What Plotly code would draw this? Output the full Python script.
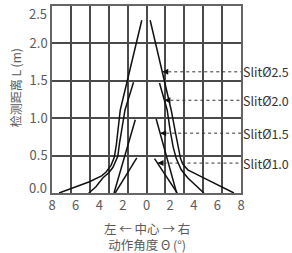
import numpy as np
import plotly.graph_objects as go

# ---- data ----
slit25_left_x = [-7.4, -6.0, -4.83, -3.8, -3.42, -3.0, -2.72, -2.55, -2.4, -2.22, -0.4]
slit25_left_y = [0.0, 0.08, 0.15, 0.23, 0.28, 0.37, 0.48, 0.65, 0.85, 1.11, 2.31]
slit25_right_x = [0.31, 2.09, 2.4, 2.65, 2.88, 3.1, 3.5, 4.5, 5.48, 6.4, 7.4]
slit25_right_y = [2.31, 1.11, 0.85, 0.62, 0.46, 0.38, 0.31, 0.23, 0.15, 0.08, 0.0]

slit20_left_x = [-4.89, -4.3, -3.7, -3.2, -2.85, -2.6, -2.43, -2.29, -2.0, -1.82, -1.1]
slit20_left_y = [0.0, 0.08, 0.2, 0.27, 0.34, 0.42, 0.49, 0.66, 0.93, 1.11, 1.48]
slit20_right_x = [1.1, 1.75, 2.0, 2.25, 2.52, 2.94, 3.5, 4.2, 4.86]
slit20_right_y = [1.47, 1.11, 0.84, 0.62, 0.46, 0.31, 0.2, 0.1, 0.0]

slit15_left_x = [-2.75, -0.95]
slit15_left_y = [0.0, 0.98]
slit15_right_x = [0.82, 2.55]
slit15_right_y = [0.99, 0.0]

slit10_left_x = [-2.65, -0.82]
slit10_left_y = [0.0, 0.47]
slit10_right_x = [0.68, 2.6]
slit10_right_y = [0.46, 0.0]

label_names = ["SlitØ2.5", "SlitØ2.0", "SlitØ1.5", "SlitØ1.0"]
label_y = [1.62, 1.24, 0.80, 0.40]

x_tick_vals = [-8, -6, -4, -2, 0, 2, 4, 6, 8]
x_tick_text = ["8", "6", "4", "2", "0", "2", "4", "6", "8"]
x_grid_vals = [-6.4, -4.8, -3.2, -1.6, 0, 1.6, 3.2, 4.8, 6.4]
y_tick_vals = [0.5, 1.0, 1.5, 2.0]
y_tick_text = ["0.5", "1.0", "1.5", "2.0"]

x_title_lines = ["左 ← 中心 → 右", "动作角度 Θ (°)"]
y_title = "检测距离 L (m)"

FONT = "Noto Sans CJK SC"
GRID = "#4a4a4a"
TXT = "#5a5a5a"

fig = go.Figure()

curves = [
    (slit25_left_x, slit25_left_y), (slit25_right_x, slit25_right_y),
    (slit20_left_x, slit20_left_y), (slit20_right_x, slit20_right_y),
    (slit15_left_x, slit15_left_y), (slit15_right_x, slit15_right_y),
    (slit10_left_x, slit10_left_y), (slit10_right_x, slit10_right_y),
]
for cx, cy in curves:
    fig.add_trace(go.Scatter(x=cx, y=cy, mode="lines",
                             line=dict(color="#111111", width=1.5),
                             showlegend=False, hoverinfo="skip"))

right_curves = [
    (slit25_right_x, slit25_right_y), (slit20_right_x, slit20_right_y),
    (slit15_right_x, slit15_right_y), (slit10_right_x, slit10_right_y),
]
annotations = []
for name, ly, (cx, cy) in zip(label_names, label_y, right_curves):
    xs = np.array(cx)[::-1]
    ys = np.array(cy)[::-1]
    tip = float(np.interp(ly, ys, xs))
    fig.add_trace(go.Scatter(x=[tip, 8], y=[ly, ly], mode="lines",
                             line=dict(color="#333333", width=1, dash="dot"),
                             showlegend=False, hoverinfo="skip", cliponaxis=False))
    annotations.append(dict(x=tip, y=ly, ax=tip + 0.4, ay=ly, xref="x", yref="y",
                            axref="x", ayref="y", text="", showarrow=True,
                            arrowhead=2, arrowsize=1.0, arrowwidth=1.2,
                            arrowcolor="#111111"))
    annotations.append(dict(x=1, y=ly, xref="paper", yref="y", text=name,
                            showarrow=False, xanchor="left", yanchor="middle",
                            xshift=0, font=dict(family=FONT, size=12.5, color="#333333")))

# inset end labels of the y axis
annotations.append(dict(x=0, y=2.5, xref="paper", yref="y", text="2.5", showarrow=False,
                        xanchor="right", yanchor="middle", xshift=-3, yshift=-7,
                        font=dict(family=FONT, size=13, color=TXT)))
annotations.append(dict(x=0, y=0.0, xref="paper", yref="y", text="0.0", showarrow=False,
                        xanchor="right", yanchor="middle", xshift=-3, yshift=6,
                        font=dict(family=FONT, size=13, color=TXT)))
# axis titles
annotations.append(dict(x=0.5, y=0, xref="paper", yref="paper",
                        text="<br>".join(x_title_lines), borderpad=0,
                        showarrow=False, xanchor="center", yanchor="middle", yshift=-43,
                        font=dict(family=FONT, size=12.5, color=TXT)))
annotations.append(dict(x=0, y=0.56, xref="paper", yref="paper", text=y_title,
                        showarrow=False, xanchor="center", yanchor="middle", xshift=-37,
                        textangle=-90, font=dict(family=FONT, size=12, color=TXT)))

fig.update_layout(
    width=292, height=253,
    margin=dict(l=52, r=51, t=6, b=60, autoexpand=False),
    paper_bgcolor="white", plot_bgcolor="white",
    font=dict(family=FONT, size=13, color=TXT),
    annotations=annotations,
    showlegend=False,
)
fig.update_xaxes(
    range=[-8, 8], tickmode="array", tickvals=x_tick_vals, ticktext=x_tick_text,
    showgrid=False, zeroline=False, ticks="", automargin=False,
    showline=True, linecolor="#666666", linewidth=1.5, mirror=True,
    minor=dict(tickmode="array", tickvals=x_grid_vals, showgrid=True,
               gridcolor=GRID, gridwidth=1.5, ticks=""),
    tickfont=dict(family=FONT, size=13, color=TXT),
)
fig.update_yaxes(
    range=[0, 2.5], tickmode="array", tickvals=y_tick_vals, ticktext=y_tick_text,
    showgrid=True, gridcolor=GRID, gridwidth=1.5, zeroline=False, ticks="",
    automargin=False,
    showline=True, linecolor="#666666", linewidth=1.5, mirror=True,
    tickfont=dict(family=FONT, size=13, color=TXT),
)

fig.write_html("out.html", config={"displayModeBar": False},
               post_script="document.body.style.margin='0';document.body.style.overflow='hidden';")
